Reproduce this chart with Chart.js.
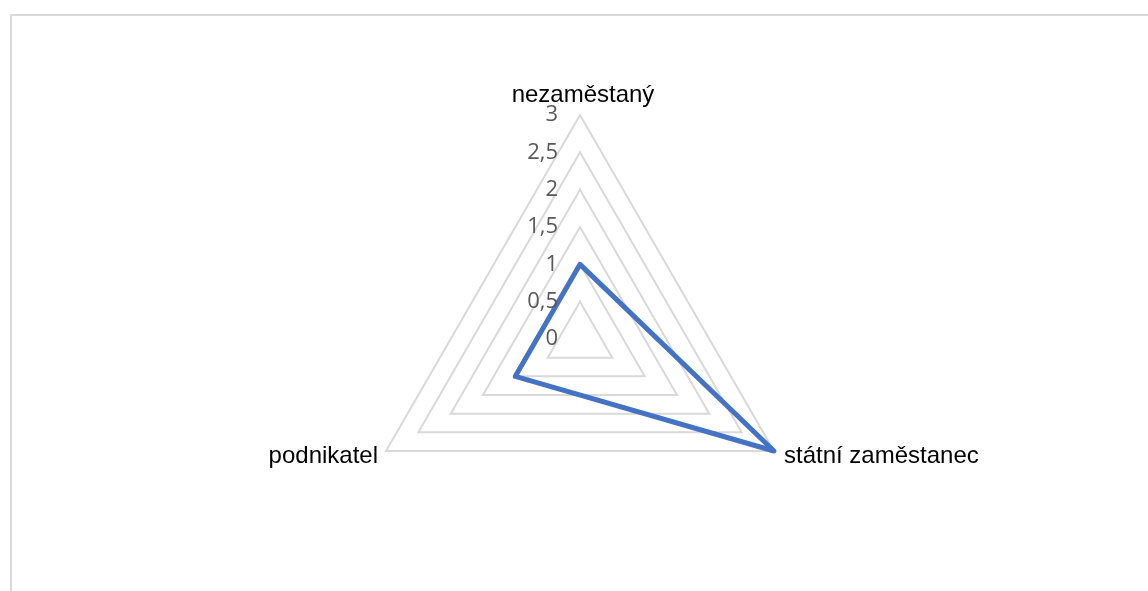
<!DOCTYPE html>
<html>
<head>
<meta charset="utf-8">
<script src="https://cdn.jsdelivr.net/npm/chart.js@4/dist/chart.umd.min.js"></script>
<style>
  body { margin: 0; background: #fff; }
  #frame { position: absolute; left: 10px; top: 14px; width: 1200px; height: 700px;
           border-top: 2px solid #d9d9d9; border-left: 2px solid #d9d9d9; }
  #myChart { position: absolute; left: 0; top: 0; }
</style>
</head>
<body>
<div id="frame"></div>
<canvas id="myChart" width="1148" height="591"></canvas>
<script>
const categories = ['nezaměstaný', 'státní zaměstanec', 'podnikatel'];
const values = [1, 3, 1];
const tickValues = [0, 0.5, 1, 1.5, 2, 2.5, 3];
const tickLabels = ['0', '0,5', '1', '1,5', '2', '2,5', '3'];

//Draw tick labels and category labels next to the radar, Excel style
const excelLabels = {
    id: 'excelLabels',
    afterDraw(chart) {
        const ctx = chart.ctx;
        const scale = chart.scales.r;
        ctx.save();

        //tick labels, right aligned left of the top axis
        ctx.font = '22px "Open Sans"';
        ctx.fillStyle = '#595959';
        ctx.textAlign = 'right';
        ctx.textBaseline = 'middle';
        tickValues.forEach((v, i) => {
            const y = scale.yCenter - scale.getDistanceFromCenterForValue(v);
            ctx.fillText(tickLabels[i], scale.xCenter - 22, y);
        });

        //category labels
        ctx.font = '24px "Liberation Sans"';
        ctx.fillStyle = '#000000';
        ctx.textBaseline = 'alphabetic';
        categories.forEach((label, i) => {
            const p = scale.getPointPosition(i, scale.drawingArea);
            if (i === 0) {
                ctx.textAlign = 'center';
                ctx.fillText(label, p.x + 3, p.y - 13);
            } else if (p.x > scale.xCenter) {
                ctx.textAlign = 'left';
                ctx.fillText(label, p.x + 10, p.y + 12);
            } else {
                ctx.textAlign = 'right';
                ctx.fillText(label, p.x - 8, p.y + 12);
            }
        });
        ctx.restore();
    }
};

let chart = document.getElementById('myChart').getContext('2d');

let myChart = new Chart(chart, {
    type: 'radar',
    data: {
        labels: categories,
        datasets: [
            {
                label: 'Řada1',
                data: values,
                borderColor: '#4472C4',
                backgroundColor: 'transparent',
                borderWidth: 5,
                borderJoinStyle: 'round',
                pointRadius: 0,
                pointHoverRadius: 0,
                fill: false,
                tension: 0
            }
        ]
    },
    options: {
        responsive: false,
        animation: false,
        devicePixelRatio: 1,
        layout: {
            padding: { left: 356, right: 344, top: 115, bottom: 28 }
        },
        plugins: {
            legend: { display: false },
            tooltip: { enabled: false }
        },
        scales: {
            r: {
                min: 0,
                max: 3,
                beginAtZero: true,
                ticks: {
                    display: false,
                    stepSize: 0.5,
                    callback: (v) => tickLabels[tickValues.indexOf(v)]
                },
                pointLabels: { display: false },
                angleLines: { display: false },
                grid: { color: '#d9d9d9', lineWidth: 2, circular: false }
            }
        }
    },
    plugins: [excelLabels]
});
</script>
</body>
</html>
